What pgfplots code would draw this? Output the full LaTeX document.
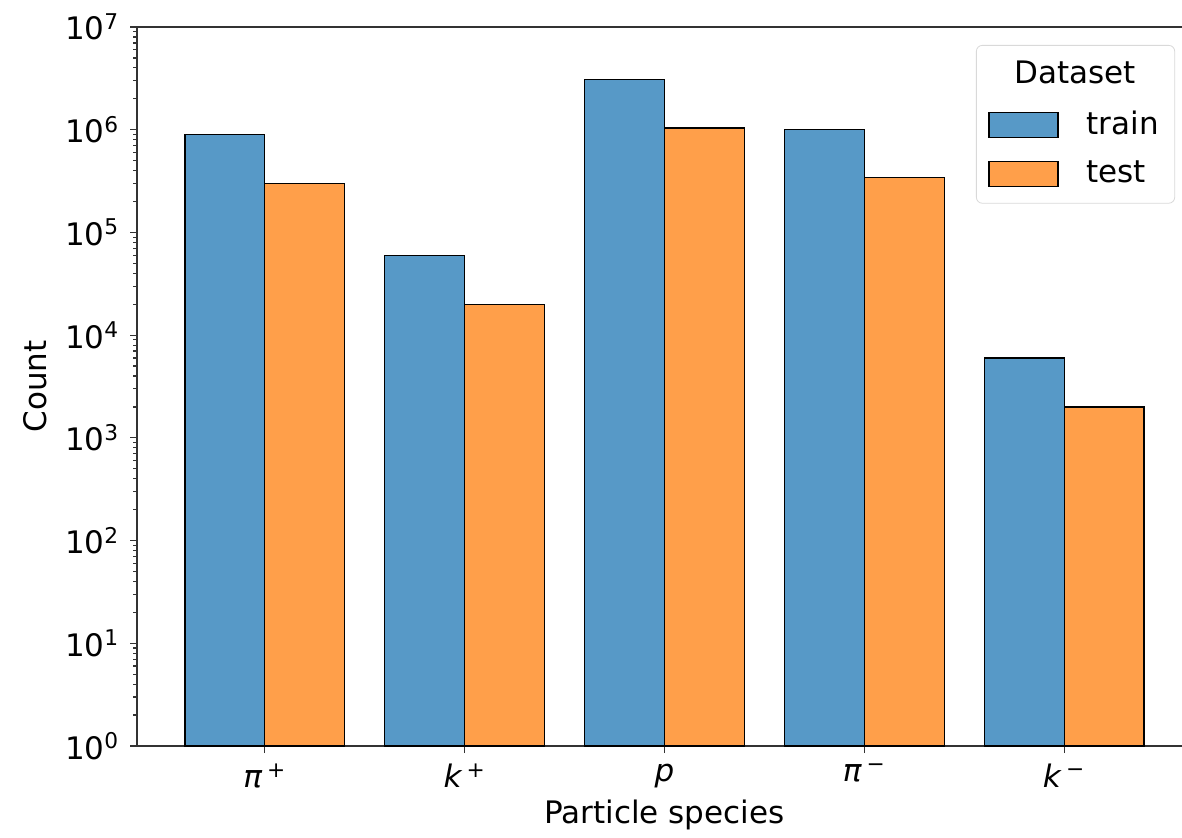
\documentclass[border=0pt]{standalone}
\usepackage{pgfplots}
\pgfplotsset{compat=1.18}
\usepackage{fontspec}
\setmainfont{DejaVu Sans}
\definecolor{trainc}{HTML}{5799C7}
\definecolor{testc}{HTML}{FF9F4A}
\begin{document}
\begin{tikzpicture}
\fontsize{15.5}{18}\selectfont
\begin{axis}[
  at={(0,0)}, anchor=south west,
  scale only axis,
  width=527.5pt, height=359.5pt,
  ymode=log, ymin=1, ymax=1e7,
  xmin=-0.64, xmax=4.64,
  xtick={0,1,2,3,4},
  xticklabels={{\itshape π\,\textsuperscript{+}},{\itshape k\,\textsuperscript{+}},{\itshape p},{\itshape π\,\textsuperscript{−}},{\itshape k\,\textsuperscript{−}}},
  ytick={1,10,100,1000,10000,100000,1000000,10000000},
  yticklabels={10\textsuperscript{0},10\textsuperscript{1},10\textsuperscript{2},10\textsuperscript{3},10\textsuperscript{4},10\textsuperscript{5},10\textsuperscript{6},10\textsuperscript{7}},
  tick align=outside, tick pos=left,
  major tick length=3.5pt, minor tick length=2pt,
  every tick/.style={black!80, line width=0.6pt},
  axis line style={black!80, line width=0.7pt},
  tick label style={font=\fontsize{15.5}{18}\selectfont},
  label style={font=\fontsize{15.5}{18}\selectfont},
  xlabel={Particle species}, ylabel={Count},
  every axis x label/.style={at={(axis description cs:0.5,-0.096)}, anchor=center},
  every axis y label/.style={at={(axis description cs:-0.0967,0.5)}, anchor=center, rotate=90},
  bar width=0.4,
  legend style={at={(axis description cs:0.984,0.975)}, anchor=north east,
    draw=black!15, rounded corners=3pt, font=\fontsize{15.5}{18}\selectfont,
    row sep=7pt, inner xsep=6pt, inner ysep=6pt,
    /tikz/every odd column/.style={column sep=12pt}},
  legend cell align=left,
  legend image code/.code={\draw[#1, sharp corners, draw=black, line width=0.6pt] (0pt,-6.25pt) rectangle (34.5pt,6.25pt);},
]
\addlegendimage{empty legend}
\addlegendentry{\hspace*{-36pt}Dataset}
\addplot[ybar, bar shift=-0.2, fill=trainc, draw=black, line width=0.6pt] coordinates {
(0,9.0e5) (1,6.0e4) (2,3.1e6) (3,1.0e6) (4,6.0e3)};
\addlegendentry{train}
\addplot[ybar, bar shift=0.2, fill=testc, draw=black, line width=0.6pt] coordinates {
(0,3.0e5) (1,2.0e4) (2,1.04e6) (3,3.4e5) (4,2.0e3)};
\addlegendentry{test}
\end{axis}
\pgfresetboundingbox
\useasboundingbox (-68.5pt,-45.5pt) rectangle (522.5pt,373pt);
\end{tikzpicture}
\end{document}
